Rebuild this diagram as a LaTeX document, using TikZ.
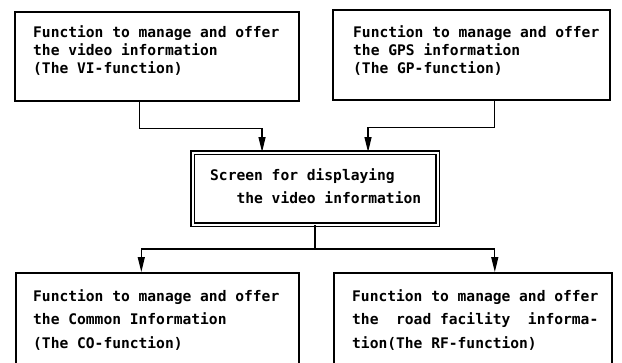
\documentclass[tikz,border=0pt]{standalone}
\usepackage{fontspec}
\setmonofont{DejaVu Sans Mono}
\usetikzlibrary{arrows.meta,
	positioning
}
\tikzset{
	funcbox/.style = {draw, rectangle, line width=1.6pt, inner sep=0pt, anchor=north west},
	screenbox/.style = {funcbox, double, double distance=2pt, line width=1.1pt},
	boxtext/.style = {anchor=west, align=left, inner sep=0pt,
		font=\ttfamily\bfseries\fontsize{14.6}{18}\selectfont},
	widetext/.style = {boxtext, font=\ttfamily\bfseries\fontsize{14.6}{23.5}\selectfont},
	flow/.style = {line width=1.3pt, -{Triangle[length=15pt,width=7pt]}}
}
\begin{document}
\begin{tikzpicture}[x=1pt,y=-1pt]
  \useasboundingbox (0,0) rectangle (622,362);
  \clip (0,0) rectangle (622,362);

  % upper row
  \node[funcbox, minimum width=284, minimum height=89] (VI) at (14,11) {};
  \node[boxtext] (VItext) at (33,51) {Function to manage and offer\\the video information\\(The VI-function)};
  \node[funcbox, minimum width=277, minimum height=90] (GP) at (332,9) {};
  \node[boxtext] (GPtext) at (353,51) {Function to manage and offer\\the GPS information\\(The GP-function)};

  % screen
  \node[screenbox, minimum width=245, minimum height=72] (Screen) at (192,152) {};
  \node[widetext] (Screentext) at (210,186) {Screen for displaying\\~~~the video information};

  % lower row
  \node[funcbox, minimum width=283, minimum height=150] (CO) at (15,272) {};
  \node[widetext] (COtext) at (33,320) {Function to manage and offer\\the Common Information\\(The CO-function)};
  \node[funcbox, minimum width=278, minimum height=150] (RF) at (333,272) {};
  \node[widetext] (RFtext) at (352,320) {Function to manage and offer\\the~~road facility~~informa-\\tion(The RF-function)};

  \draw[flow] ([xshift=-17]VI.south) -- ++(0,27) -| ([xshift=-53]Screen.north);
  \draw[flow] ([xshift=23]GP.south) -- ++(0,27) -| ([xshift=53]Screen.north);
  \coordinate (split) at ([yshift=-24]Screen.south);
  \draw[line width=1.3pt] (Screen.south) -- (split);
  \draw[flow] (split) -| ([xshift=-16]CO.north);
  \draw[flow] (split) -| ([xshift=22]RF.north);
\end{tikzpicture}
\end{document}
